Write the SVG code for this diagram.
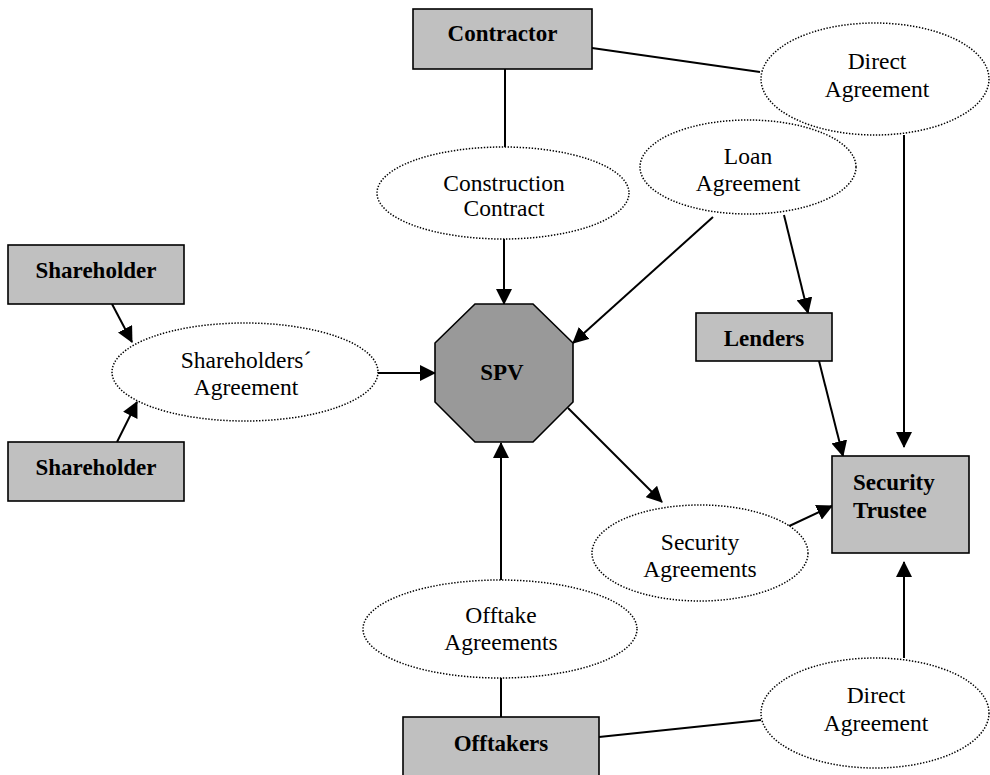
<svg xmlns="http://www.w3.org/2000/svg" width="990" height="775" viewBox="0 0 990 775">
<style>
.box{fill:#c0c0c0;stroke:#000;stroke-width:1.6}
.spv{fill:#999999;stroke:#000;stroke-width:1.6}
.ell{fill:#fff;stroke:#000;stroke-width:1.5;stroke-dasharray:1.4 1.6}
.b{font-family:"Liberation Serif","Times New Roman",serif;font-weight:bold;font-size:23px;fill:#000;text-anchor:middle}
.r{font-family:"Liberation Serif","Times New Roman",serif;font-size:23.5px;fill:#000;text-anchor:middle}
.c line{stroke:#000;stroke-width:2}
.c line.a{marker-end:url(#ah)}
</style>
<defs>
<marker id="ah" viewBox="0 0 16 16" refX="15" refY="8" markerWidth="16" markerHeight="16" markerUnits="userSpaceOnUse" orient="auto">
<path d="M0,0 L16,8 L0,16 z" fill="#000"/>
</marker>
</defs>
<rect width="990" height="775" fill="#fff"/>

<g class="c" id="connectors">
<line x1="505" y1="69" x2="505" y2="147"/>
<line x1="592" y1="48" x2="760" y2="72"/>
<line x1="501" y1="678" x2="501" y2="717"/>
<line x1="599" y1="737" x2="761" y2="720"/>
<line class="a" x1="112" y1="304" x2="132" y2="342"/>
<line class="a" x1="117" y1="442" x2="137" y2="402"/>
<line class="a" x1="378" y1="373" x2="435" y2="373"/>
<line class="a" x1="504" y1="239" x2="504" y2="304"/>
<line class="a" x1="713" y1="217" x2="573" y2="343"/>
<line class="a" x1="784" y1="215" x2="808" y2="313"/>
<line class="a" x1="819" y1="361" x2="843" y2="456"/>
<line class="a" x1="904" y1="135" x2="904" y2="447"/>
<line class="a" x1="568" y1="408" x2="662" y2="502"/>
<line class="a" x1="785" y1="528" x2="832" y2="506"/>
<line class="a" x1="501" y1="580" x2="501" y2="443"/>
<line class="a" x1="904" y1="658" x2="904" y2="562"/>
</g>

<g id="contractor">
<rect class="box" x="413" y="9" width="179" height="60"/>
<text class="b" x="502.5" y="41">Contractor</text>
</g>
<g id="direct-agreement-top">
<ellipse class="ell" cx="875" cy="79" rx="114" ry="56"/>
<text class="r" x="877" y="69">Direct</text>
<text class="r" x="877" y="97">Agreement</text>
</g>
<g id="construction-contract">
<ellipse class="ell" cx="503" cy="193" rx="126" ry="46"/>
<text class="r" x="504" y="191">Construction</text>
<text class="r" x="504" y="216">Contract</text>
</g>
<g id="loan-agreement">
<ellipse class="ell" cx="748" cy="167" rx="108" ry="47"/>
<text class="r" x="748" y="164">Loan</text>
<text class="r" x="748" y="191">Agreement</text>
</g>
<g id="shareholder-1">
<rect class="box" x="8" y="245" width="176" height="59"/>
<text class="b" x="96" y="278">Shareholder</text>
</g>
<g id="shareholder-2">
<rect class="box" x="8" y="442" width="176" height="59"/>
<text class="b" x="96" y="475">Shareholder</text>
</g>
<g id="shareholders-agreement">
<ellipse class="ell" cx="245" cy="372" rx="133" ry="49"/>
<text class="r" x="246" y="368">Shareholders´</text>
<text class="r" x="246" y="395">Agreement</text>
</g>
<g id="spv">
<polygon class="spv" points="475,304 533,304 573,343 573,402 533,442 475,442 435,402 435,343"/>
<text class="b" x="502" y="380">SPV</text>
</g>
<g id="lenders">
<rect class="box" x="696" y="313" width="136" height="48"/>
<text class="b" x="764" y="346">Lenders</text>
</g>
<g id="security-trustee">
<rect class="box" x="832" y="456" width="137" height="97"/>
<text class="b" x="853" y="490" text-anchor="start" style="text-anchor:start">Security</text>
<text class="b" x="853" y="518" style="text-anchor:start">Trustee</text>
</g>
<g id="security-agreements">
<ellipse class="ell" cx="700" cy="553" rx="108" ry="48"/>
<text class="r" x="700" y="550">Security</text>
<text class="r" x="700" y="577">Agreements</text>
</g>
<g id="offtake-agreements">
<ellipse class="ell" cx="500" cy="629" rx="137" ry="49"/>
<text class="r" x="501" y="623">Offtake</text>
<text class="r" x="501" y="650">Agreements</text>
</g>
<g id="offtakers">
<rect class="box" x="403" y="717" width="196" height="70"/>
<text class="b" x="501" y="751">Offtakers</text>
</g>
<g id="direct-agreement-bottom">
<ellipse class="ell" cx="875" cy="713" rx="114" ry="55"/>
<text class="r" x="876" y="703">Direct</text>
<text class="r" x="876" y="731">Agreement</text>
</g>
</svg>
